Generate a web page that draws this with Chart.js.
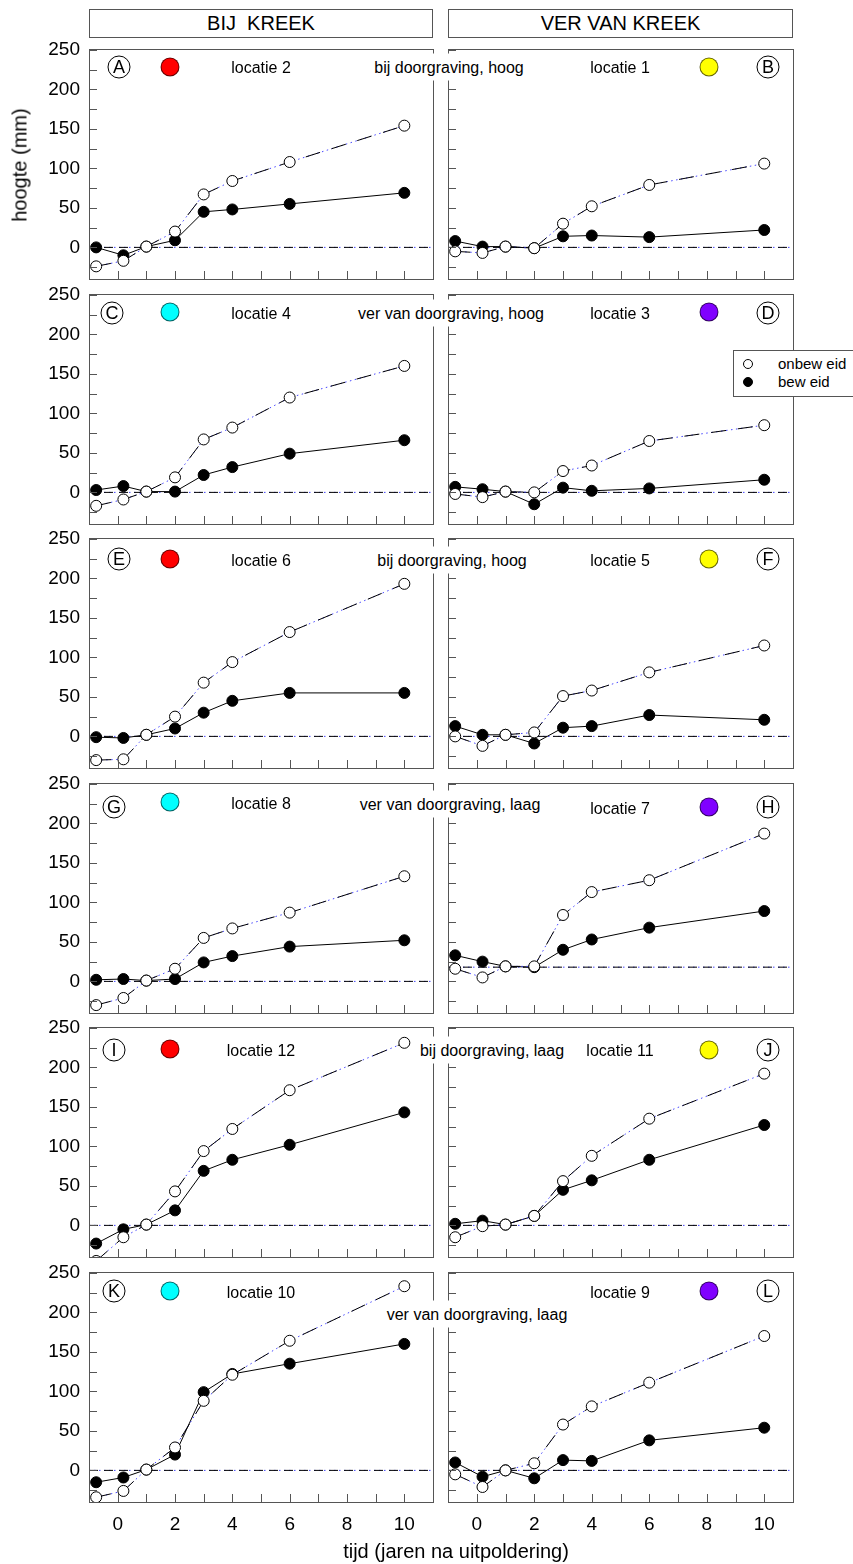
<!DOCTYPE html>
<html>
<head>
<meta charset="utf-8">
<script src="https://cdn.jsdelivr.net/npm/chart.js@4/dist/chart.umd.min.js"></script>
<style>
body { margin: 0; background: #fff; font-family: "Liberation Sans", Arial, sans-serif; color: #000; }
#wrap { position: relative; width: 853px; height: 1564px; overflow: hidden; }
canvas { position: absolute; }
.box { position: absolute; border: 1px solid #555; box-sizing: border-box; text-align: center; font-size: 20px; line-height: 27px; white-space: pre; background: #fff; }
.lab { position: absolute; white-space: nowrap; font-size: 16px; transform: translate(-50%, -50%); line-height: 19px; }
.mid { background: #fff; padding: 4px 1px; z-index: 3; }
.letter { position: absolute; width: 23px; height: 23px; border: 1px solid #000; border-radius: 50%; box-sizing: border-box; transform: translate(-50%, -50%); text-align: center; font-size: 18px; line-height: 21px; background: #fff; }
.dot { position: absolute; width: 19px; height: 19px; border-radius: 50%; border: 1px solid rgba(0,0,0,.6); box-sizing: border-box; transform: translate(-50%, -50%); }
.ttl { position: absolute; font-size: 20px; white-space: nowrap; transform: translate(-50%, -50%); }
#legend { position: absolute; left: 733px; top: 350px; width: 130px; height: 47px; border: 1px solid #555; box-sizing: border-box; background: #fff; z-index: 3; font-size: 15px; }
#legend .m { position: absolute; left: 9px; width: 10px; height: 10px; border: 1px solid #000; border-radius: 50%; box-sizing: border-box; }
#legend .t { position: absolute; left: 44px; line-height: 17px; white-space: nowrap; }
</style>
</head>
<body>
<div id="wrap"></div>
<script>
// tijdstippen (jaren na uitpoldering)
const tijd = [-0.75, 0.2, 1, 2, 3, 4, 6, 10];
const panelLetters = ['A', 'B', 'C', 'D', 'E', 'F', 'G', 'H', 'I', 'J', 'K', 'L'];
const locaties = [2, 1, 4, 3, 6, 5, 8, 7, 12, 11, 10, 9];
const kleuren = ['#ff0000', '#ffff00', '#00ffff', '#8000ff', '#ff0000', '#ffff00',
                 '#00ffff', '#8000ff', '#ff0000', '#ffff00', '#00ffff', '#8000ff'];

// open cirkels: onbew eid
const onbewEid = [
  [-24, -17, 1, 20, 67, 84, 108, 154],
  [-5, -7, 1, -1, 30, 52, 79, 106],
  [-17, -9, 1, 19, 67, 82, 120, 160],
  [-2, -6, 1, 0, 27, 34, 65, 85],
  [-30, -29, 2, 25, 68, 94, 132, 193],
  [0, -12, 2, 5, 51, 58, 81, 115],
  [-30, -21, 1, 16, 55, 67, 87, 133],
  [16, 5, 19, 19, 84, 113, 128, 187],
  [-45, -15, 1, 43, 94, 122, 171, 231],
  [-15, -1, 1, 12, 56, 88, 135, 192],
  [-34, -26, 1, 29, 88, 121, 164, 233],
  [-5, -21, 0, 9, 58, 81, 111, 170]
];
// gevulde cirkels: bew eid
const bewEid = [
  [0, -10, 1, 9, 45, 48, 55, 69],
  [8, 1, 1, -1, 14, 15, 13, 22],
  [3, 8, 1, 1, 22, 32, 49, 66],
  [7, 4, 1, -15, 6, 2, 5, 16],
  [-1, -2, 2, 10, 30, 45, 55, 55],
  [13, 2, 2, -9, 11, 13, 27, 21],
  [2, 3, 1, 3, 24, 32, 44, 52],
  [33, 25, 19, 18, 40, 53, 68, 89],
  [-23, -5, 1, 19, 69, 83, 102, 143],
  [2, 6, 1, 12, 45, 57, 83, 127],
  [-15, -9, 1, 20, 99, 122, 135, 160],
  [10, -8, 0, -10, 13, 12, 38, 54]
];
const nulLijn = [0, 0, 0, 0, 0, 0, 0, 18, 0, 0, 0, 0];

const xTickLabels = [0, 2, 4, 6, 8, 10];
const yTickLabels = [0, 50, 100, 150, 200, 250];
const xTicks = [0, 1, 2, 3, 4, 5, 6, 7, 8, 9, 10];
const yTicks = [-25, 0, 25, 50, 75, 100, 125, 150, 175, 200, 225, 250];

const kolomTitels = ['BIJ  KREEK', 'VER VAN KREEK'];
const middenTeksten = ['bij doorgraving, hoog', 'ver van doorgraving, hoog', 'bij doorgraving, hoog',
                       'ver van doorgraving, laag', 'bij doorgraving, laag', 'ver van doorgraving, laag'];

// layout
const rowTops = [49, 294, 538, 783, 1027, 1272];
const plotH = 230;
const letterX = [119, 112, 119, 114, 114, 114];
const letterY = [67, 313, 559, 807, 1050, 1291];
const dotYLeft = [67, 312, 559, 802, 1049, 1291];
const dotYRight = [67, 312, 559, 807, 1050, 1291];
const locYLeft = [67, 313, 560, 803, 1050, 1292];
const locYRight = [67, 313, 560, 808, 1050, 1292];
const midX = [449, 451, 452, 450, 492, 477];
const midY = [67, 313, 560, 804, 1050, 1314];

const BLAUW = 'rgba(50,50,255,0.9)';
const wrap = document.getElementById('wrap');
Chart.defaults.font.family = '"Liberation Sans", Arial, sans-serif';
Chart.defaults.color = '#000';

const frameTicks = {
  id: 'frameTicks',
  afterDatasetsDraw(chart) {
    const { ctx, chartArea: a, scales: { x, y } } = chart;
    ctx.save();
    ctx.strokeStyle = '#555';
    ctx.lineWidth = 1;
    ctx.beginPath();
    xTicks.forEach(v => {
      const px = Math.round(x.getPixelForValue(v)) + 0.5;
      ctx.moveTo(px, a.bottom); ctx.lineTo(px, a.bottom - 8);
    });
    yTicks.forEach(v => {
      const py = Math.round(y.getPixelForValue(v)) + 0.5;
      ctx.moveTo(a.left, py); ctx.lineTo(a.left + 8, py);
    });
    ctx.stroke();
    ctx.strokeRect(Math.round(a.left) + 0.5, Math.round(a.top) + 0.5,
                   Math.round(a.right - a.left), Math.round(a.bottom - a.top));
    ctx.restore();
  }
};

function pts(arr) { return tijd.map((t, i) => ({ x: t, y: arr[i] })); }

function addEl(cls, html, left, top) {
  const d = document.createElement('div');
  d.className = cls;
  d.innerHTML = html;
  d.style.left = left + 'px';
  d.style.top = top + 'px';
  wrap.appendChild(d);
  return d;
}

function noPad(s) { s.paddingTop = 0; s.paddingBottom = 0; s.paddingLeft = 0; s.paddingRight = 0; }

for (let p = 0; p < 12; p++) {
  const row = Math.floor(p / 2), col = p % 2;
  const bottom = row === 5;
  const left = col === 0;
  const c = document.createElement('canvas');
  const cl = left ? 0 : 441;
  const cw = left ? 441 : 412;
  const ch = 14 + plotH + (bottom ? 50 : 14);
  c.width = cw; c.height = ch;
  c.style.left = cl + 'px';
  c.style.top = (rowTops[row] - 14) + 'px';
  c.style.width = cw + 'px';
  c.style.height = ch + 'px';
  wrap.appendChild(c);

  const ref = [{ x: -1, y: nulLijn[p] }, { x: 11, y: nulLijn[p] }];
  new Chart(c, {
    type: 'line',
    data: {
      datasets: [
        { data: ref, borderColor: BLAUW, borderWidth: 1, borderDash: [1.5, 3.5], pointRadius: 0, order: 6 },
        { data: ref, borderColor: '#000', borderWidth: 1, borderDash: [9, 6], pointRadius: 0, order: 5 },
        { label: 'bew eid', data: pts(bewEid[p]), borderColor: '#000', borderWidth: 1,
          pointRadius: 5.5, pointBackgroundColor: '#000', pointBorderColor: '#000', pointBorderWidth: 1, order: 2 },
        { data: pts(onbewEid[p]), borderColor: BLAUW, borderWidth: 1, borderDash: [1.5, 3.5], pointRadius: 0, order: 1 },
        { label: 'onbew eid', data: pts(onbewEid[p]), borderColor: '#000', borderWidth: 1, borderDash: [15, 12],
          pointRadius: 5.5, pointBackgroundColor: '#fff', pointBorderColor: '#000', pointBorderWidth: 1, order: 0 }
      ]
    },
    options: {
      responsive: false,
      maintainAspectRatio: false,
      animation: false,
      events: [],
      layout: { padding: { top: 14, bottom: bottom ? 0 : 14, left: left ? 0 : 7, right: left ? 8 : 60 } },
      plugins: { legend: { display: false }, tooltip: { enabled: false } },
      scales: {
        x: {
          type: 'linear', min: -1, max: 11, display: bottom,
          grid: { display: false, drawTicks: false }, border: { display: false },
          ticks: { stepSize: 1, autoSkip: false, maxRotation: 0, padding: 11, font: { size: 19 },
                   callback: v => xTickLabels.includes(v) ? String(v) : '' },
          afterFit: s => { s.height = bottom ? 50 : 0; noPad(s); }
        },
        y: {
          type: 'linear', min: -40, max: 251, display: left,
          grid: { display: false, drawTicks: false }, border: { display: false },
          ticks: { stepSize: 25, includeBounds: false, autoSkip: false, padding: 9, font: { size: 19 },
                   callback: v => yTickLabels.includes(v) ? String(v) : '' },
          afterFit: s => { s.width = left ? 89 : 0; noPad(s); }
        }
      }
    },
    plugins: [frameTicks]
  });

  // panel annotaties
  if (left) {
    addEl('letter', panelLetters[p], letterX[row], letterY[row]);
    addEl('dot', '', 170, dotYLeft[row]).style.background = kleuren[p];
    addEl('lab', 'locatie ' + locaties[p], 261, locYLeft[row]);
  } else {
    addEl('letter', panelLetters[p], 768, letterY[row]);
    addEl('dot', '', 709, dotYRight[row]).style.background = kleuren[p];
    addEl('lab', 'locatie ' + locaties[p], 620, locYRight[row]);
  }
}

middenTeksten.forEach((t, i) => addEl('lab mid', t, midX[i], midY[i]));

// kolomtitels
const t1 = addEl('box', kolomTitels[0], 89, 9); t1.style.width = '344px'; t1.style.height = '29px';
const t2 = addEl('box', kolomTitels[1], 448, 9); t2.style.width = '345px'; t2.style.height = '29px';

// astitels
addEl('ttl', 'tijd (jaren na uitpoldering)', 456, 1551);
addEl('ttl', 'hoogte (mm)', 20, 165).style.transform = 'translate(-50%, -50%) rotate(-90deg)';

// legenda
const lg = document.createElement('div');
lg.id = 'legend';
lg.innerHTML = '<div class="m" style="top:8px;background:#fff"></div><div class="t" style="top:4px">onbew eid</div>' +
               '<div class="m" style="top:26px;background:#000"></div><div class="t" style="top:22px">bew eid</div>';
wrap.appendChild(lg);
</script>
</body>
</html>
